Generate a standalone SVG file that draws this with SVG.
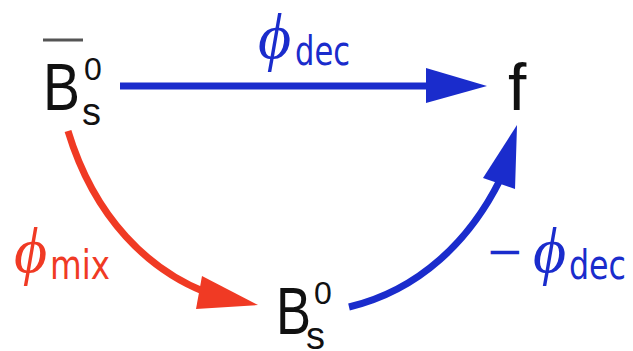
<svg xmlns="http://www.w3.org/2000/svg" width="633" height="351" viewBox="0 0 633 351">
<style>
.node{font-family:"Liberation Sans","DejaVu Sans",sans-serif;fill:#111}
.big{font-size:66px}
.sup{font-size:32px}
.sub{font-size:38px}
.phi{font-family:"Liberation Serif","DejaVu Serif",serif;font-style:italic;font-size:64px}
.lbl{font-family:"DejaVu Sans",sans-serif;font-size:40px}
.blue{fill:#1a2ccc}
.red{fill:#f03a24}
</style>
<rect width="633" height="351" fill="#fff"/>
<g id="connectors">
  <line x1="120" y1="86" x2="430" y2="86" stroke="#1a2ccc" stroke-width="7"/>
  <polygon points="426,68 487,86 426,103" fill="#1a2ccc"/>
  <path d="M68,131 C95,220 150,270 205,292" fill="none" stroke="#f03a24" stroke-width="7"/>
  <polygon points="202,276 258,305 196,309" fill="#f03a24"/>
  <path d="M349,307 C420,290 470,240 500,180" fill="none" stroke="#1a2ccc" stroke-width="7"/>
  <polygon points="483,178 517,125 515,189" fill="#1a2ccc"/>
</g>
<g id="node-Bsbar">
  <line x1="43" y1="40" x2="83" y2="40" stroke="#555" stroke-width="3"/>
  <text class="node big" x="43" y="110" textLength="37" lengthAdjust="spacingAndGlyphs">B</text>
  <text class="node sup" x="84" y="80">0</text>
  <text class="node sub" x="82" y="125">s</text>
</g>
<g id="node-f">
  <text class="node big" x="508" y="110">f</text>
</g>
<g id="node-Bs">
  <text class="node big" x="276" y="334" textLength="35" lengthAdjust="spacingAndGlyphs">B</text>
  <text class="node sup" x="314" y="304">0</text>
  <text class="node sub" x="306" y="349">s</text>
</g>
<g id="label-dec">
  <text class="phi blue" x="258" y="58">ϕ</text>
  <text class="lbl blue" x="295" y="65" textLength="55" lengthAdjust="spacingAndGlyphs">dec</text>
</g>
<g id="label-mix">
  <text class="phi red" x="14" y="272">ϕ</text>
  <text class="lbl red" x="50" y="279" textLength="60" lengthAdjust="spacingAndGlyphs">mix</text>
</g>
<g id="label-negdec">
  <text class="lbl blue" x="486" y="265" textLength="38" lengthAdjust="spacingAndGlyphs">−</text>
  <text class="phi blue" x="533" y="272">ϕ</text>
  <text class="lbl blue" x="569" y="279" textLength="57" lengthAdjust="spacingAndGlyphs">dec</text>
</g>
</svg>
